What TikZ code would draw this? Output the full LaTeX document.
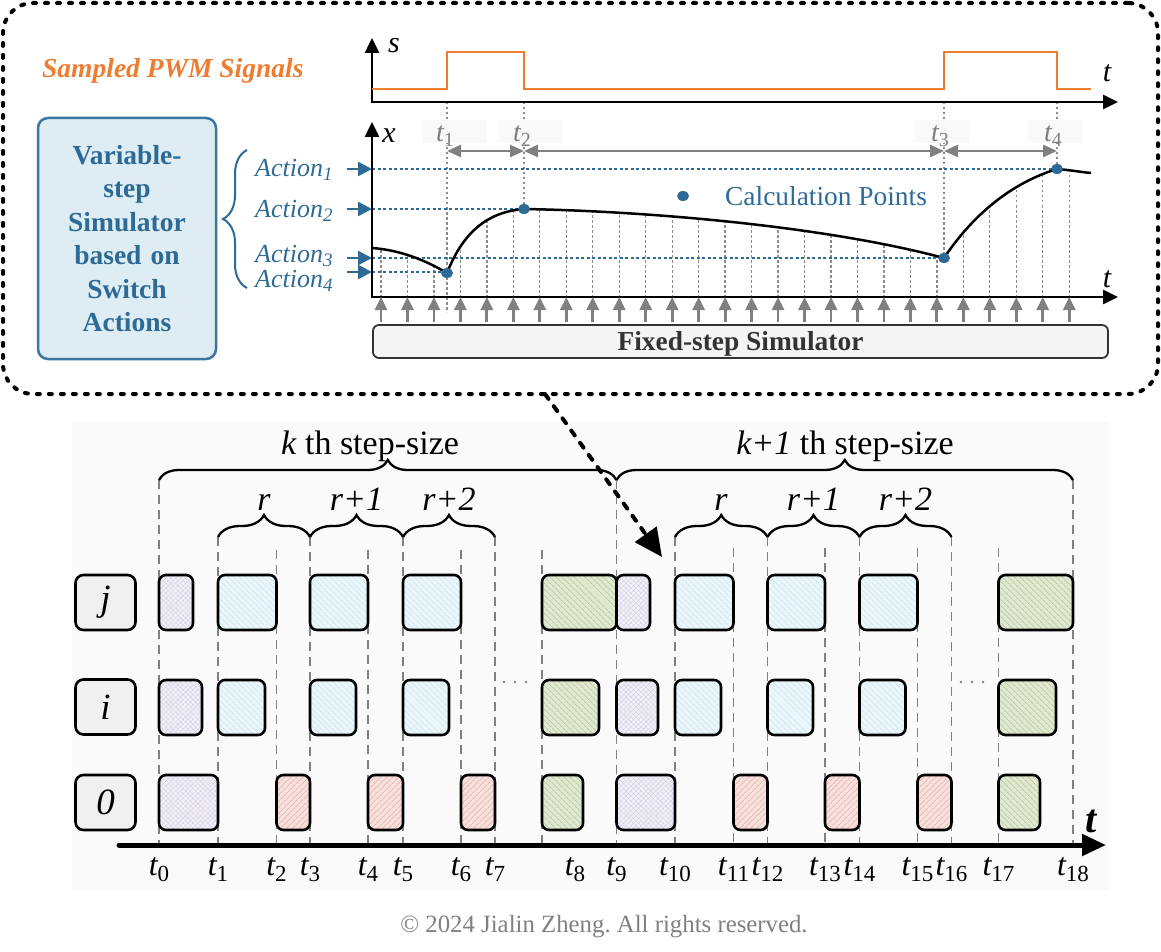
\documentclass[tikz,border=0pt]{standalone}
\usepackage{fontspec}
\setmainfont{Liberation Serif}
\usetikzlibrary{arrows.meta,decorations.pathreplacing,patterns.meta,calc}
\frenchspacing
\definecolor{myblue}{RGB}{46,106,150}
\definecolor{boxblue}{RGB}{221,237,243}
\definecolor{borderblue}{RGB}{58,118,160}
\definecolor{pwmorange}{RGB}{237,125,49}
\definecolor{midgray}{RGB}{128,128,128}
\definecolor{pfill}{RGB}{241,239,247}
\definecolor{ppat}{RGB}{214,208,229}
\definecolor{cfill}{RGB}{234,246,250}
\definecolor{cpat}{RGB}{192,226,238}
\definecolor{rfill}{RGB}{246,224,220}
\definecolor{rpat}{RGB}{226,160,150}
\definecolor{gfill}{RGB}{225,232,210}
\definecolor{gpat}{RGB}{168,184,132}
\newcommand{\myT}[1]{{\itshape t}\raisebox{-6pt}{\fontsize{23}{23}\selectfont #1}}
\newcommand{\myTs}[1]{{\itshape t}\raisebox{-5pt}{\fontsize{20}{20}\selectfont #1}}
\newcommand{\myAct}[1]{Action\raisebox{-4pt}{\fontsize{19}{19}\selectfont #1}}
\begin{document}
\begin{tikzpicture}[x=1pt,y=-1pt,
  cell/.style={line width=2.6pt, rounded corners=7pt, draw=black},
  pb/.style={cell, preaction={fill=pfill}, pattern={Hatch[angle=45,distance=3.5pt,line width=0.4pt]}, pattern color=ppat},
  cb/.style={cell, preaction={fill=cfill}, pattern={Lines[angle=-45,distance=4pt,line width=0.5pt]}, pattern color=cpat},
  rb/.style={cell, preaction={fill=rfill}, pattern={Lines[angle=45,distance=4pt,line width=0.6pt]}, pattern color=rpat},
  gb/.style={cell, preaction={fill=gfill}, pattern={Lines[angle=-45,distance=4pt,line width=0.6pt]}, pattern color=gpat},
  rowlab/.style={draw, fill=black!6, line width=2.6pt, rounded corners=8pt, minimum width=60pt, minimum height=55pt, inner sep=0pt, font=\fontsize{37}{37}\selectfont\itshape},
  tlab/.style={anchor=base, inner sep=0pt, font=\fontsize{32}{32}\selectfont},
  tslab/.style={anchor=base, inner sep=0pt, text=midgray, font=\fontsize{28}{28}\selectfont},
  axarrow/.style={line width=2.5pt, line join=miter},
  gdim/.style={draw=midgray, line width=2.5pt, {Triangle[length=14pt,width=12pt]}-{Triangle[length=14pt,width=12pt]}},
  gup/.style={draw=midgray, line width=2.8pt, -{Triangle[length=13pt,width=12pt]}},
  bluearr/.style={draw=myblue, line width=2.5pt, -{Triangle[length=14pt,width=14pt]}},
  gdot/.style={draw=black!45, line width=1.3pt, dash pattern=on 2.5pt off 2.5pt},
  bdot/.style={draw=myblue, line width=1.5pt, dash pattern=on 3pt off 2.5pt},
  tdash/.style={draw=black!50, line width=1.6pt, dash pattern=on 9pt off 6pt},
  bbrace/.style={draw=black, line width=2.3pt, decorate},
  calc/.style={fill=myblue}
]
\useasboundingbox (0,0) rectangle (1161,952);

% ---------- bottom background ----------
\fill[black!2] (72,422) rectangle (1108,890);

% ---------- top dashed frame ----------
\node[draw, line width=4pt, dash pattern=on 3pt off 9pt, line cap=round, rounded corners=30pt,
      minimum width=1155pt, minimum height=391pt, inner sep=0pt] (topbox) at (580.5,198.5) {};

% variable-step box
\node[draw=borderblue, fill=boxblue, line width=2.5pt, rounded corners=10pt, minimum width=178pt,
      minimum height=241pt, text width=175pt, align=center, inner sep=0pt,
      font=\fontsize{27.5}{33.4}\selectfont\bfseries, text=myblue] (vs) at (127,238.5)
      {Variable-\\step\\Simulator\\based on\\Switch\\Actions};

\node[anchor=base west, inner sep=0pt, text=pwmorange, font=\fontsize{27.5}{30}\selectfont\bfseries\itshape] (pwm) at (42,78) {Sampled PWM Signals};

% brace and actions
\draw[myblue, line width=2pt, decorate, decoration={brace, amplitude=24pt}] (247,288) -- (247,150);
\begin{scope}[every node/.style={anchor=base west, inner sep=0pt, text=myblue, font=\fontsize{26}{26}\selectfont\itshape}]
\node (a1) at (255,177) {\myAct{1}};
\node (a2) at (255,218) {\myAct{2}};
\node (a3) at (255,262) {\myAct{3}};
\node (a4) at (255,287) {\myAct{4}};
\end{scope}

% grid under curve
\def\xcurve{(372,248) .. controls (400,250) and (425,260) .. (447,273) .. controls (462,235) and (485,212) .. (524,209) .. controls (640,211) and (820,225) .. (944,258) .. controls (968,222) and (1005,185) .. (1057,169) .. controls (1070,170) and (1080,172) .. (1091,173)}
\begin{scope}
\clip \xcurve -- (1091,297) -- (372,297) -- cycle;
\foreach \k in {0,...,26} {\pgfmathsetmacro\xx{381+26.47*\k}\draw[gdot] (\xx,150) -- (\xx,297);}
\end{scope}

% t dotted verticals
\draw[gdot] (447,102) -- (447,312);
\draw[gdot] (524,102) -- (524,209);
\draw[gdot] (944,102) -- (944,258);
\draw[gdot] (1057,102) -- (1057,169);

% blue dotted lines
\draw[bdot] (372,169) -- (1057,169);
\draw[bdot] (372,209) -- (524,209);
\draw[bdot] (372,258) -- (944,258);
\draw[bdot] (372,272) -- (447,272);

% blue arrows
\draw[bluearr] (347,169) -- (372,169);
\draw[bluearr] (347,209) -- (372,209);
\draw[bluearr] (347,258) -- (372,258);
\draw[bluearr] (347,272) -- (372,272);

% axes
\draw[axarrow, {Triangle[length=15pt,width=14pt]}-{Triangle[length=15pt,width=14pt]}] (372,38) -- (372,102) -- (1118,102);
\draw[axarrow, {Triangle[length=15pt,width=14pt]}-{Triangle[length=15pt,width=14pt]}] (372,122) -- (372,297) -- (1118,297);
\node[anchor=base, inner sep=0pt, font=\fontsize{30}{30}\selectfont\itshape] (slab) at (394,53) {s};
\node[anchor=base, inner sep=0pt, font=\fontsize{30}{30}\selectfont\itshape] (tlabA) at (1107,82) {t};
\node[anchor=base, inner sep=0pt, font=\fontsize{30}{30}\selectfont\itshape] (xlab) at (389,143) {x};
\node[anchor=base, inner sep=0pt, font=\fontsize{30}{30}\selectfont\itshape] (tlabB) at (1107,287) {t};

% PWM signal
\draw[pwmorange, line width=2.5pt] (372,89) -- (447,89) -- (447,52) -- (524,52) -- (524,89) -- (944,89) -- (944,52) -- (1057,52) -- (1057,89) -- (1091,89);

% x curve
\draw[black, line width=2.5pt] \xcurve;

% t label boxes
\fill[black!2.5] (422,120) rectangle (486,143);
\fill[black!2.5] (499,120) rectangle (563,143);
\fill[black!2.5] (915,120) rectangle (970,143);
\fill[black!2.5] (1028,120) rectangle (1083,143);
\node[tslab] (ts1) at (445,142) {\myTs{1}};
\node[tslab] (ts2) at (522,142) {\myTs{2}};
\node[tslab] (ts3) at (940,142) {\myTs{3}};
\node[tslab] (ts4) at (1053,142) {\myTs{4}};

% dimension arrows
\draw[gdim] (447,151) -- (524,151);
\draw[gdim] (524,151) -- (944,151);
\draw[gdim] (944,151) -- (1057,151);

% calculation points
\fill[calc] (447,273) ellipse (6pt and 5pt);
\fill[calc] (524,209) ellipse (6pt and 5pt);
\fill[calc] (944,258) ellipse (6pt and 5pt);
\fill[calc] (1057,169) ellipse (6pt and 5pt);
\fill[calc] (683,196) ellipse (6pt and 5pt);
\node[anchor=base west, inner sep=0pt, text=myblue, font=\fontsize{27.4}{28}\selectfont] (cp) at (725,205) {Calculation Points};

% fixed step arrows
\foreach \k in {0,...,26} {\pgfmathsetmacro\xx{381+26.47*\k}\draw[gup] (\xx,322) -- (\xx,297);}

% fixed step box
\node[draw=black!80, fill=black!4, line width=1.8pt, rounded corners=6pt, minimum width=735pt, minimum height=33pt, inner sep=0pt] (fs) at (740.5,341.5) {};
\node[anchor=base, inner sep=0pt, text=black!80, font=\fontsize{27.4}{28}\selectfont\bfseries] (fstext) at (740.5,350) {Fixed-step Simulator};

% ---------- bottom part ----------
% dashed verticals
\foreach \x/\ys in {159/480, 218/537, 276.5/550, 310/537, 368/550, 403/537, 461/550, 495/537, 542/550, 616.5/480,
                    675/537, 733.5/548, 767.5/537, 825/548, 859.5/537, 917.5/548, 951.5/537, 998.5/548, 1073/480}
  {\draw[tdash] (\x,\ys) -- (\x,845);}

% braces
\draw[bbrace, decoration={brace, amplitude=20pt}] (159,480) -- (616.5,480);
\draw[bbrace, decoration={brace, amplitude=20pt}] (616.5,480) -- (1073,480);
\foreach \a/\b in {218/310, 310/403, 403/495, 675/767.5, 767.5/859.5, 859.5/951.5}
  {\draw[bbrace, decoration={brace, amplitude=22pt}] (\a,537) -- (\b,537);}

\node[anchor=base, inner sep=0pt, font=\fontsize{34}{34}\selectfont] (kstep) at (370,454) {\textit{k} th step-size};
\node[anchor=base, inner sep=0pt, font=\fontsize{34}{34}\selectfont] (k1step) at (845,454) {\textit{k+1} th step-size};
\begin{scope}[every node/.style={anchor=base, inner sep=0pt, font=\fontsize{34}{34}\selectfont\itshape}]
\node (r1) at (264,510) {r};
\node (r2) at (356.5,510) {r+1};
\node (r3) at (449,510) {r+2};
\node (r4) at (721,510) {r};
\node (r5) at (813.5,510) {r+1};
\node (r6) at (905.5,510) {r+2};
\end{scope}

% row labels
\node[rowlab] (rowj) at (105.5,602.5) {j};
\node[rowlab] (rowi) at (105.5,707) {i};
\node[rowlab] (row0) at (105.5,802.5) {0};

% j row
\foreach \a/\b/\s in {159/193/pb, 218/276.5/cb, 310/368/cb, 403/461/cb, 542/616.5/gb,
                      616.5/650/pb, 675/733.5/cb, 767.5/825/cb, 859.5/917.5/cb, 998.5/1073/gb}
  {\draw[\s] (\a,575) rectangle (\b,630);}
% i row
\foreach \a/\b/\s in {159/202/pb, 218/265/cb, 310/356/cb, 403/449/cb, 542/599/gb,
                      616.5/658/pb, 675/721/cb, 767.5/813/cb, 859.5/905.5/cb, 998.5/1056/gb}
  {\draw[\s] (\a,680) rectangle (\b,735);}
% 0 row
\foreach \a/\b/\s in {159/218/pb, 276.5/310/rb, 368/403/rb, 461/495/rb, 542/583/gb,
                      616.5/675/pb, 733.5/767.5/rb, 825/859.5/rb, 917.5/951.5/rb, 998.5/1040/gb}
  {\draw[\s] (\a,775) rectangle (\b,830);}

% ellipsis dots
\foreach \x in {504,515,526,961,972,983} {\fill[black!50] (\x,682) circle (1.3pt);}

% time axis
\draw[line width=5pt, line cap=round, -{Triangle[length=24pt,width=21pt]}] (119,845) -- (1106,845);
\node[anchor=base, inner sep=0pt, font=\fontsize{40}{40}\selectfont\bfseries\itshape] (taxis) at (1091,832) {t};

\foreach \x/\n in {159/0, 218/1, 276.5/2, 310/3, 368/4, 403/5, 461/6, 495/7, 575/8, 616.5/9, 675/10, 733.5/11,
                   767.5/12, 825/13, 859.5/14, 917.5/15, 951.5/16, 998.5/17, 1073/18}
  {\node[tlab] (tl\n) at (\x,875) {\myT{\n}};}

\node[anchor=base, inner sep=0pt, text=black!50, font=\fontsize{24.8}{26}\selectfont] (copyr) at (604,932) {© 2024 Jialin Zheng. All rights reserved.};

% dashed arrow from top frame
\coordinate (arrS) at (545,394);
\coordinate (arrE) at (662,557);
\draw[line width=4pt, dash pattern=on 6pt off 9pt, line cap=round, -{Triangle[length=28pt,width=26pt]}] (arrS) -- (arrE);
\end{tikzpicture}
\end{document}
